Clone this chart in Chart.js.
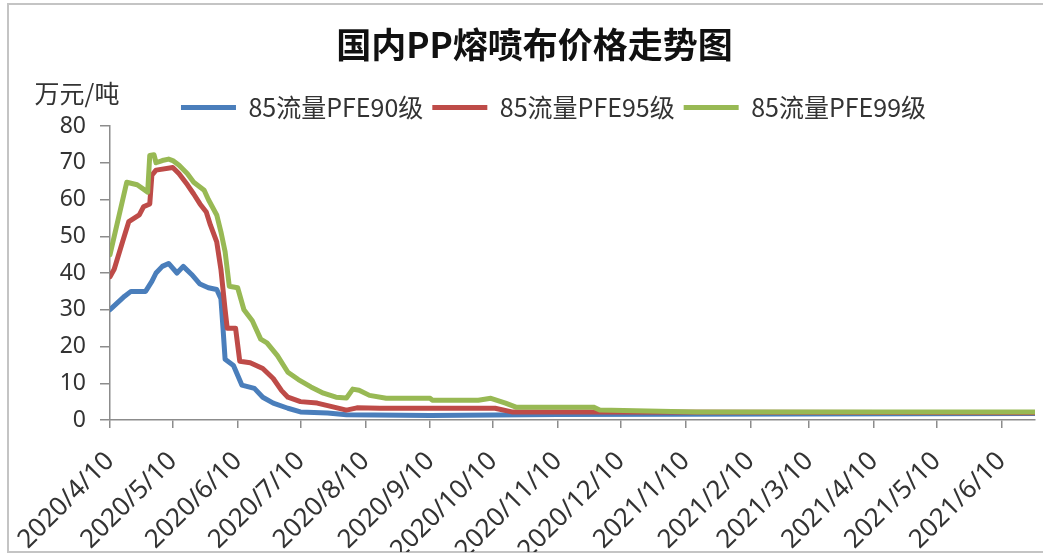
<!DOCTYPE html>
<html>
<head>
<meta charset="utf-8">
<script src="https://cdn.jsdelivr.net/npm/chart.js@4"></script>
<style>
  html, body { margin: 0; padding: 0; background: #fff; }
  #wrap { width: 1043px; height: 556px; }
</style>
</head>
<body>
<div id="wrap"><canvas id="ppChart" width="1043" height="556"></canvas></div>
<script>
const startDate = '2020/4/10';
const endDate = '2021/6/26';
const tickLabels = ['2020/4/10', '2020/5/10', '2020/6/10', '2020/7/10', '2020/8/10', '2020/9/10',
    '2020/10/10', '2020/11/10', '2020/12/10', '2021/1/10', '2021/2/10', '2021/3/10',
    '2021/4/10', '2021/5/10', '2021/6/10'];
const seriesNames = ['85流量PFE90级', '85流量PFE95级', '85流量PFE99级'];

// PFE90 (blue)
const blueDates = ['2020/4/10', '2020/4/17', '2020/4/20', '2020/4/27', '2020/4/30', '2020/5/2', '2020/5/5',
    '2020/5/8', '2020/5/12', '2020/5/15', '2020/5/19', '2020/5/23', '2020/5/27', '2020/5/31', '2020/6/2',
    '2020/6/3', '2020/6/4', '2020/6/8', '2020/6/12', '2020/6/18', '2020/6/22', '2020/6/27', '2020/7/4',
    '2020/7/10', '2020/7/23', '2020/8/1', '2020/9/10', '2020/11/10', '2021/6/26'];
const blueValues = [30, 33.7, 35, 35, 37.7, 40, 41.8, 42.6, 40, 41.8, 39.6, 37, 36, 35.5, 33,
    25, 16.5, 14.8, 9.5, 8.6, 6.2, 4.6, 3.2, 2.2, 1.9, 1.4, 1.2, 1.5, 1.8];

// PFE95 (red)
const redDates = ['2020/4/10', '2020/4/12', '2020/4/16', '2020/4/19', '2020/4/24', '2020/4/26', '2020/4/29',
    '2020/4/30', '2020/5/2', '2020/5/10', '2020/5/13', '2020/5/17', '2020/5/20', '2020/5/23', '2020/5/26',
    '2020/5/28', '2020/5/31', '2020/6/2', '2020/6/4', '2020/6/5', '2020/6/9', '2020/6/11', '2020/6/16',
    '2020/6/22', '2020/6/27', '2020/7/1', '2020/7/4', '2020/7/10', '2020/7/18', '2020/7/26', '2020/8/1',
    '2020/8/6', '2020/8/17', '2020/10/11', '2020/10/19', '2020/11/27', '2021/6/26'];
const redValues = [39, 41, 48.5, 54, 55.8, 58, 58.8, 66.6, 68, 68.7, 67, 64, 61.5, 58.8, 56.6,
    53, 48.5, 41, 30, 25, 25, 16, 15.6, 14, 11.3, 8, 6.2, 5, 4.6, 3.5, 2.7,
    3.3, 3.2, 3.2, 2.2, 2.2, 2.0];

// PFE99 (green)
const greenDates = ['2020/4/10', '2020/4/18', '2020/4/23', '2020/4/28', '2020/4/29', '2020/5/1', '2020/5/2',
    '2020/5/5', '2020/5/8', '2020/5/10', '2020/5/13', '2020/5/17', '2020/5/20', '2020/5/25', '2020/5/27',
    '2020/5/31', '2020/6/2', '2020/6/4', '2020/6/6', '2020/6/10', '2020/6/13', '2020/6/17', '2020/6/21',
    '2020/6/24', '2020/6/29', '2020/7/4', '2020/7/9', '2020/7/15', '2020/7/21', '2020/7/27', '2020/8/1',
    '2020/8/4', '2020/8/7', '2020/8/12', '2020/8/20', '2020/9/10', '2020/9/11', '2020/10/3', '2020/10/9',
    '2020/10/16', '2020/10/21', '2020/11/27', '2020/11/30', '2020/12/17', '2021/1/15', '2021/6/26'];
const greenValues = [45, 64.7, 64, 62, 72, 72.2, 70, 70.6, 71, 70.6, 69.3, 67, 64.7, 62.5, 60,
    55.8, 51.2, 45.8, 36.4, 36, 30, 27, 22, 21, 17.5, 13, 11, 9, 7.3, 6.2, 6,
    8.4, 8.1, 6.7, 5.9, 5.9, 5.4, 5.4, 5.9, 4.6, 3.5, 3.5, 2.7, 2.5, 2.2, 2.2];

function dayIndex(s) {
    const [y, m, d] = s.split('/').map(Number);
    const [y0, m0, d0] = startDate.split('/').map(Number);
    return Math.round((Date.UTC(y, m - 1, d) - Date.UTC(y0, m0 - 1, d0)) / 86400000);
}

function toPoints(dates, values) {
    return dates.map((d, i) => ({ x: dayIndex(d), y: values[i] }));
}

const tickDays = tickLabels.map(dayIndex);
const labelByDay = {};
tickLabels.forEach((t, i) => { labelByDay[tickDays[i]] = t; });

const axisColor = '#8c8c8c';
const textColor = '#333333';

// frame, unit label and small position nudges
const decorPlugin = {
    id: 'decor',
    afterLayout(chart) {
        chart.titleBlock.left += 17;
        chart.titleBlock.right += 17;
        chart.legend.left += 36;
        chart.legend.right += 36;
        chart.legend.top += 4;
        chart.legend.bottom += 4;
    },
    beforeDraw(chart) {
        const ctx = chart.ctx;
        ctx.save();
        ctx.fillStyle = '#ffffff';
        ctx.fillRect(0, 0, chart.width, chart.height);
        ctx.strokeStyle = '#c4c4c4';
        ctx.lineWidth = 2;
        ctx.beginPath();
        ctx.moveTo(chart.width, 4);
        ctx.lineTo(8, 4);
        ctx.lineTo(8, 552);
        ctx.lineTo(chart.width, 552);
        ctx.stroke();
        ctx.restore();
    },
    afterDraw(chart) {
        const ctx = chart.ctx;
        ctx.save();
        ctx.font = '25px "Noto Sans CJK SC"';
        ctx.fillStyle = textColor;
        ctx.textAlign = 'center';
        ctx.textBaseline = 'middle';
        ctx.fillText('万元/吨', 77, 93);
        ctx.restore();
    }
};

const ctx = document.getElementById('ppChart').getContext('2d');
new Chart(ctx, {
    type: 'line',
    data: {
        datasets: [
            {
                label: seriesNames[0],
                data: toPoints(blueDates, blueValues),
                borderColor: '#4a7ebb',
                backgroundColor: '#4a7ebb',
                borderWidth: 5,
                order: 3
            },
            {
                label: seriesNames[1],
                data: toPoints(redDates, redValues),
                borderColor: '#be4b48',
                backgroundColor: '#be4b48',
                borderWidth: 5,
                order: 2
            },
            {
                label: seriesNames[2],
                data: toPoints(greenDates, greenValues),
                borderColor: '#98b954',
                backgroundColor: '#98b954',
                borderWidth: 5,
                order: 1
            }
        ]
    },
    options: {
        responsive: false,
        animation: false,
        layout: { padding: { top: 0, left: 0, right: 8, bottom: 4 } },
        elements: {
            line: { tension: 0, borderCapStyle: 'round', borderJoinStyle: 'round' },
            point: { radius: 0 }
        },
        plugins: {
            title: {
                display: true,
                text: '国内PP熔喷布价格走势图',
                color: '#111',
                font: { family: '"Noto Sans CJK SC"', size: 35, weight: 'bold' },
                padding: { top: 24, bottom: 16 }
            },
            legend: {
                display: true,
                labels: {
                    usePointStyle: true,
                    pointStyle: 'line',
                    pointStyleWidth: 55,
                    color: textColor,
                    padding: 9,
                    font: { family: '"Noto Sans CJK SC"', size: 25 },
                    sort: (a, b) => a.datasetIndex - b.datasetIndex
                }
            },
            tooltip: { enabled: false }
        },
        scales: {
            x: {
                type: 'linear',
                min: 0,
                max: dayIndex(endDate),
                afterBuildTicks: (scale) => { scale.ticks = tickDays.map(v => ({ value: v })); },
                afterFit: (scale) => { scale.height = 132; },
                ticks: {
                    autoSkip: false,
                    maxRotation: 45,
                    minRotation: 45,
                    padding: 18,
                    color: textColor,
                    font: { family: '"Noto Sans"', size: 26 },
                    callback: (value) => labelByDay[value] || ''
                },
                grid: { display: true, drawOnChartArea: false, drawTicks: true, tickLength: 8, color: axisColor, lineWidth: 1.5 },
                border: { display: true, color: axisColor, width: 1.5 }
            },
            y: {
                min: 0,
                max: 80,
                afterFit: (scale) => { scale.width = 110; },
                ticks: {
                    stepSize: 10,
                    padding: 14,
                    color: textColor,
                    font: { family: '"Noto Sans"', size: 23 }
                },
                grid: { display: true, drawOnChartArea: false, drawTicks: true, tickLength: 10, color: axisColor, lineWidth: 1.5 },
                border: { display: true, color: axisColor, width: 1.5 }
            }
        }
    },
    plugins: [decorPlugin]
});
</script>
</body>
</html>
